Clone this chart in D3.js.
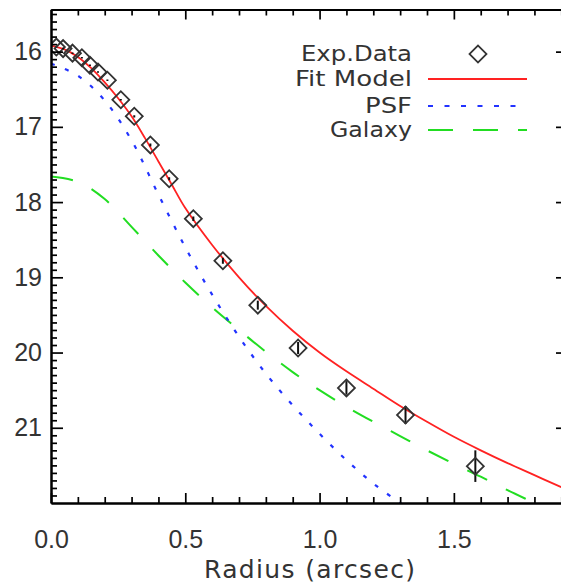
<!DOCTYPE html>
<html>
<head>
<meta charset="utf-8">
<script src="https://cdn.jsdelivr.net/npm/d3@7"></script>
<style>
body { margin: 0; background: #fff; }
svg { display: block; font-family: "DejaVu Sans", sans-serif; }
.axis text { font-size: 25px; fill: #333; }
.axis line { stroke: #000; stroke-width: 1.7; }
.axis path { stroke: #000; stroke-width: 2; }
</style>
</head>
<body>
<div id="chart-area"></div>
<script>
// measured profile (radius in arcsec, surface brightness in mag)
var dataR   = [0.02, 0.045, 0.08, 0.115, 0.145, 0.175, 0.21, 0.26, 0.31, 0.37, 0.44, 0.53, 0.64, 0.77, 0.92, 1.10, 1.32, 1.58];
var dataMag = [15.94, 15.96, 16.02, 16.08, 16.18, 16.27, 16.38, 16.64, 16.86, 17.24, 17.69, 18.22, 18.78, 19.37, 19.94, 20.47, 20.83, 21.51];
var dataErr = [0.01, 0.01, 0.01, 0.01, 0.01, 0.01, 0.01, 0.01, 0.015, 0.02, 0.02, 0.03, 0.04, 0.06, 0.08, 0.09, 0.12, 0.21];

var fitR   = [0, 0.05, 0.1, 0.15, 0.2, 0.25, 0.3, 0.35, 0.4, 0.45, 0.5, 0.6, 0.7, 0.8, 0.9, 1.0, 1.1, 1.2, 1.3, 1.4, 1.5, 1.6, 1.7, 1.8, 1.9, 1.95];
var fitMag = [15.92, 15.97, 16.07, 16.22, 16.41, 16.62, 16.86, 17.15, 17.46, 17.77, 18.08, 18.57, 19.0, 19.38, 19.71, 20.0, 20.25, 20.48, 20.71, 20.92, 21.12, 21.30, 21.47, 21.63, 21.79, 21.87];

var psfR   = [0, 0.1, 0.2, 0.3, 0.4, 0.5, 0.6, 0.7, 0.8, 0.9, 1.0, 1.1, 1.2, 1.3, 1.35];
var psfMag = [16.16, 16.32, 16.65, 17.18, 17.90, 18.60, 19.23, 19.79, 20.28, 20.70, 21.08, 21.43, 21.74, 22.0, 22.12];

var galR   = [0, 0.1, 0.2, 0.3, 0.4, 0.5, 0.6, 0.7, 0.8, 0.9, 1.0, 1.1, 1.2, 1.3, 1.4, 1.5, 1.6, 1.7, 1.8, 1.9, 1.95];
var galMag = [17.66, 17.73, 17.96, 18.33, 18.71, 19.07, 19.40, 19.70, 19.99, 20.26, 20.50, 20.72, 20.92, 21.11, 21.30, 21.48, 21.65, 21.83, 22.0, 22.17, 22.25];

var xMajor = [0, 0.5, 1.0, 1.5];
var yMajor = [16, 17, 18, 19, 20, 21];
var legendLabels = ["Exp.Data", "Fit Model", "PSF", "Galaxy"];

var width = 561;
var height = 584;
var plot = { left: 51, top: 9.5, right: 568, bottom: 503 };

var svg = d3.select("#chart-area")
	.append("svg")
	.attr("width", width)
	.attr("height", height);

var x = d3.scaleLinear().domain([0, 1.925]).range([plot.left, plot.right]);
var y = d3.scaleLinear().domain([15.44, 22]).range([plot.top, plot.bottom]);

var xMinor = d3.range(1, 20).map(d => d / 10).filter(d => xMajor.indexOf(d) < 0);
var yMinor = d3.range(155, 220).map(d => d / 10).filter(d => d % 1 !== 0);

svg.append("defs").append("clipPath")
	.attr("id", "clip")
	.append("rect")
	.attr("x", plot.left)
	.attr("y", plot.top)
	.attr("width", plot.right - plot.left)
	.attr("height", plot.bottom - plot.top);

// curves
var line = d3.line()
	.x(d => x(d[0]))
	.y(d => y(d[1]))
	.curve(d3.curveCatmullRom.alpha(0.5));

var curves = svg.append("g").attr("clip-path", "url(#clip)");

curves.append("path")
	.datum(galR.map((r, i) => [r, galMag[i]]))
	.attr("d", line)
	.attr("fill", "none")
	.attr("stroke", "#22dd22")
	.attr("stroke-width", 2)
	.attr("stroke-dasharray", "22,21");

curves.append("path")
	.datum(psfR.map((r, i) => [r, psfMag[i]]))
	.attr("d", line)
	.attr("fill", "none")
	.attr("stroke", "#2233ff")
	.attr("stroke-width", 2.2)
	.attr("stroke-dasharray", "4,11");

curves.append("path")
	.datum(fitR.map((r, i) => [r, fitMag[i]]))
	.attr("d", line)
	.attr("fill", "none")
	.attr("stroke", "#ff2222")
	.attr("stroke-width", 1.8);

// data points with error bars
var pts = svg.append("g").attr("clip-path", "url(#clip)")
	.selectAll("g.pt")
	.data(dataR.map((r, i) => ({ r: r, m: dataMag[i], e: dataErr[i] })))
	.enter().append("g")
	.attr("class", "pt");

pts.append("line")
	.attr("x1", d => x(d.r))
	.attr("x2", d => x(d.r))
	.attr("y1", d => y(d.m - d.e))
	.attr("y2", d => y(d.m + d.e))
	.attr("stroke", "#111")
	.attr("stroke-width", 2);

var diamond = d3.symbol().type(d3.symbolSquare).size(144);

pts.append("path")
	.attr("d", diamond)
	.attr("transform", d => "translate(" + x(d.r) + "," + y(d.m) + ") rotate(45)")
	.attr("fill", "none")
	.attr("stroke", "#333")
	.attr("stroke-width", 1.8);

// axes (frame with ticks on all four sides)
function addAxis(axis, tx, ty) {
	return svg.append("g")
		.attr("class", "axis")
		.attr("transform", "translate(" + tx + "," + ty + ")")
		.call(axis);
}

addAxis(d3.axisBottom(x).tickValues(xMinor).tickFormat("").tickSizeInner(-6).tickSizeOuter(0), 0, plot.bottom);
addAxis(d3.axisBottom(x).tickValues(xMajor).tickFormat(d3.format(".1f")).tickSizeInner(-10).tickSizeOuter(0).tickPadding(27), 0, plot.bottom);

addAxis(d3.axisTop(x).tickValues(xMinor).tickFormat("").tickSizeInner(-6).tickSizeOuter(0), 0, plot.top);
addAxis(d3.axisTop(x).tickValues(xMajor).tickFormat("").tickSizeInner(-10).tickSizeOuter(0), 0, plot.top);

addAxis(d3.axisLeft(y).tickValues(yMinor).tickFormat("").tickSizeInner(-6).tickSizeOuter(0), plot.left, 0);
addAxis(d3.axisLeft(y).tickValues(yMajor).tickFormat(d3.format("d")).tickSizeInner(-12).tickSizeOuter(0).tickPadding(9), plot.left, 0);

addAxis(d3.axisRight(y).tickValues(yMajor).tickFormat("").tickSizeInner(-12).tickSizeOuter(0), plot.right, 0);

svg.append("text")
	.attr("x", 309.5)
	.attr("y", 578)
	.attr("text-anchor", "middle")
	.attr("font-size", "25px")
	.attr("fill", "#333")
	.attr("textLength", 211)
	.attr("lengthAdjust", "spacing")
	.text("Radius (arcsec)");

// legend
var legendY = [54, 79, 106, 130];
var legendWidths = [111, 117, 47, 82];
var legend = svg.append("g").attr("class", "legend");

legend.selectAll("text")
	.data(legendLabels)
	.enter().append("text")
	.attr("x", 412)
	.attr("y", (d, i) => legendY[i] + 7)
	.attr("text-anchor", "end")
	.attr("font-size", "21px")
	.attr("fill", "#333")
	.attr("textLength", (d, i) => legendWidths[i])
	.attr("lengthAdjust", "spacingAndGlyphs")
	.text(d => d);

legend.append("path")
	.attr("d", diamond)
	.attr("transform", "translate(478," + legendY[0] + ") rotate(45)")
	.attr("fill", "none")
	.attr("stroke", "#333")
	.attr("stroke-width", 1.8);

var legendStyles = [
	{ color: "#ff2222", dash: null, w: 1.8 },
	{ color: "#2233ff", dash: "5,11.5", w: 2.2 },
	{ color: "#22dd22", dash: "25,20", w: 2 }
];

legendStyles.forEach((s, i) => {
	legend.append("line")
		.attr("x1", 428)
		.attr("x2", 527)
		.attr("y1", legendY[i + 1])
		.attr("y2", legendY[i + 1])
		.attr("stroke", s.color)
		.attr("stroke-width", s.w)
		.attr("stroke-dasharray", s.dash);
});
</script>
</body>
</html>
